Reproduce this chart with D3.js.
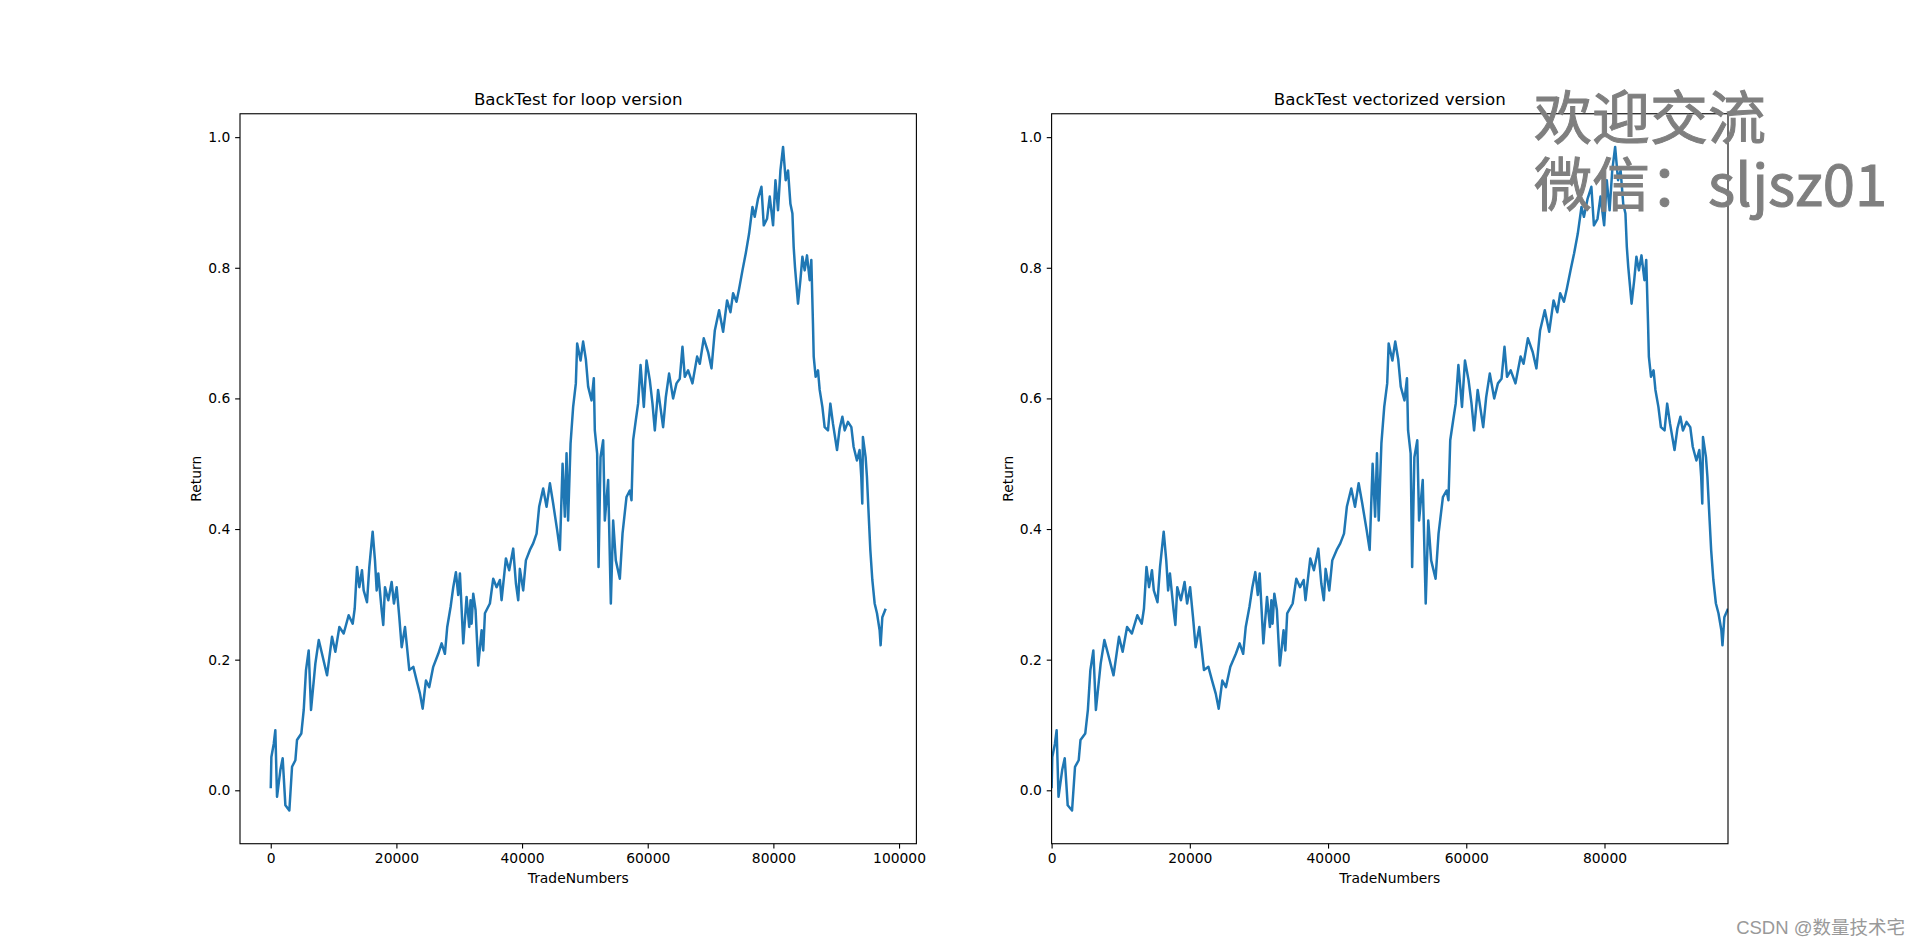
<!DOCTYPE html>
<html>
<head>
<meta charset="utf-8">
<script src="https://cdn.jsdelivr.net/npm/d3@7"></script>
<style>
  body { margin: 0; background: #ffffff; }
  svg { display: block; }
</style>
</head>
<body>
<div id="chart"></div>
<script>
// ---------------- data ----------------
// trade number (x) and cumulative return (y), both panels show the same series
var tradeNumbers = [
  0, 100, 475, 730, 1000, 1530, 1900, 2330, 2960, 3390, 3920, 4180, 4870, 5250, 5610, 6040,
  6410, 7100, 7640, 8160, 8960, 9750, 10280, 10920, 11610, 12400, 13040, 13360, 13730, 14100,
  14520, 14790, 15320, 15690, 16220, 16590, 16860, 17120, 17650, 17910, 18180, 18710, 19240,
  19610, 20040, 20460, 20840, 21370, 21630, 22050, 22690, 23220, 23750, 24180, 24700, 25230,
  25860, 26660, 27200, 27720, 28090, 28630, 29050, 29470, 29840, 30110, 30640, 31170, 31590,
  31800, 31970, 32230, 32600, 33020, 33560, 33820, 34090, 34880, 35410, 35950, 36470, 36740,
  37430, 37950, 38590, 39020, 39390, 39650, 40180, 40610, 41250, 41770, 42310, 42720, 43360,
  43900, 44430, 44950, 45590, 46020, 46450, 46810, 47080, 47330, 47720, 48130, 48560, 48770,
  49310, 49720, 50150, 50520, 51060, 51420, 51580, 51950, 52170, 52490, 52910, 53170, 53700,
  54130, 54500, 54920, 55560, 55990, 56620, 57150, 57420, 57680, 58110, 58470, 58860, 59380,
  59810, 60330, 60760, 61130, 61650, 62450, 62880, 63400, 64040, 64580, 65100, 65530, 65900,
  66430, 67120, 67860, 68290, 68920, 69610, 70150, 70680, 71360, 72000, 72630, 73170, 73590,
  74130, 74550, 75080, 75600, 76130, 76670, 77030, 77560, 78100, 78470, 78990, 79420, 79950,
  80330, 80740, 81120, 81540, 81960, 82330, 82710, 83030, 83230, 83440, 83920, 84300, 84620,
  84980, 85350, 85780, 86040, 86300, 86420, 86730, 87100, 87370, 87800, 88160, 88690, 89070,
  89490, 90130, 90550, 90980, 91350, 91870, 92410, 92770, 93300, 93720, 93990, 94150, 94250,
  94680, 94890, 95210, 95430, 95750, 96120, 96490, 96910, 97070, 97340, 97870
];
var returns = [
  0.003, 0.051, 0.071, 0.092, -0.010, 0.031, 0.049, -0.023, -0.031, 0.036, 0.046, 0.077, 0.087, 0.123, 0.184, 0.214,
  0.123, 0.194, 0.230, 0.209, 0.176, 0.235, 0.212, 0.250, 0.240, 0.268, 0.255, 0.278, 0.342, 0.311,
  0.337, 0.306, 0.288, 0.342, 0.396, 0.352, 0.306, 0.332, 0.276, 0.253, 0.311, 0.291, 0.319,
  0.286, 0.311, 0.265, 0.219, 0.250, 0.225, 0.184, 0.189, 0.168, 0.148, 0.125, 0.168, 0.158,
  0.189, 0.209, 0.225, 0.209, 0.250, 0.281, 0.311, 0.334, 0.299, 0.332, 0.225, 0.296, 0.250,
  0.291, 0.255, 0.301, 0.276, 0.191, 0.245, 0.214, 0.271, 0.286, 0.324, 0.311, 0.322, 0.291,
  0.355, 0.337, 0.370, 0.317, 0.291, 0.339, 0.306, 0.352, 0.368, 0.378, 0.393, 0.434, 0.462,
  0.434, 0.470, 0.439, 0.398, 0.368, 0.500, 0.419, 0.516, 0.413, 0.531, 0.587, 0.623, 0.684,
  0.658, 0.687, 0.660, 0.618, 0.597, 0.631, 0.551, 0.516, 0.342, 0.510, 0.536, 0.413, 0.475,
  0.286, 0.413, 0.352, 0.324, 0.393, 0.449, 0.459, 0.444, 0.536, 0.567, 0.592, 0.651, 0.587,
  0.658, 0.628, 0.592, 0.551, 0.613, 0.556, 0.602, 0.638, 0.600, 0.623, 0.630, 0.679, 0.633,
  0.643, 0.623, 0.664, 0.653, 0.692, 0.671, 0.646, 0.704, 0.735, 0.702, 0.750, 0.732, 0.761,
  0.748, 0.768, 0.796, 0.822, 0.852, 0.893, 0.878, 0.906, 0.924, 0.865, 0.875, 0.909, 0.865,
  0.934, 0.888, 0.949, 0.985, 0.934, 0.949, 0.898, 0.883, 0.832, 0.801, 0.745, 0.781, 0.817,
  0.796, 0.819, 0.781, 0.812, 0.715, 0.664, 0.633, 0.643, 0.613, 0.587, 0.556, 0.551, 0.592,
  0.561, 0.521, 0.554, 0.572, 0.551, 0.564, 0.556, 0.526, 0.505, 0.521, 0.480, 0.439, 0.541,
  0.510, 0.480, 0.413, 0.368, 0.322, 0.286, 0.271, 0.245, 0.222, 0.265, 0.278
];

var titles = ["BackTest for loop version", "BackTest vectorized version"];
var xLabel = "TradeNumbers";
var yLabel = "Return";
var yTicks = [0.0, 0.2, 0.4, 0.6, 0.8, 1.0];
var xTicksLeft = [0, 20000, 40000, 60000, 80000, 100000];
var xTicksRight = [0, 20000, 40000, 60000, 80000];
var watermark = ["欢迎交流", "微信：sljsz01"];
var credit = "CSDN @数量技术宅";

// ---------------- layout (matplotlib default subplot params) ----------------
var svgWidth = 1920;
var svgHeight = 948;
var axTop = 113.76;
var axBottom = 843.72;
var tickLen = 4.86;
var lineColor = "#1f77b4";

var series = tradeNumbers.map(function(t, i) {
  return { x: t, y: returns[i] };
});

var svg = d3.select("#chart")
  .append("svg")
  .attr("width", svgWidth)
  .attr("height", svgHeight);

// y extent with the 5% auto margin matplotlib adds
var yMin = d3.min(returns), yMax = d3.max(returns);
var ySpan = yMax - yMin;
var yScale = d3.scaleLinear()
  .domain([yMin - 0.05 * ySpan, yMax + 0.05 * ySpan])
  .range([axBottom, axTop]);

var xLast = d3.max(tradeNumbers);

var panels = [
  { left: 240, right: 916.4, title: titles[0], ticks: xTicksLeft, domain: [-0.05 * xLast, 1.05 * xLast] },
  { left: 1051.6, right: 1728, title: titles[1], ticks: xTicksRight, domain: [0, xLast] }
];

panels.forEach(function(p, i) {
  var xScale = d3.scaleLinear().domain(p.domain).range([p.left, p.right]);
  var g = svg.append("g").attr("class", "panel" + i);

  // clip the line to the axes box
  g.append("clipPath")
    .attr("id", "clip" + i)
    .append("rect")
    .attr("x", p.left)
    .attr("y", axTop)
    .attr("width", p.right - p.left)
    .attr("height", axBottom - axTop);

  var line = d3.line()
    .x(function(d) { return xScale(d.x); })
    .y(function(d) { return yScale(d.y); });

  g.append("path")
    .datum(series)
    .attr("clip-path", "url(#clip" + i + ")")
    .attr("fill", "none")
    .attr("stroke", lineColor)
    .attr("stroke-width", 2.5)
    .attr("stroke-linejoin", "round")
    .attr("d", line);

  // x axis
  var xAxis = g.append("g")
    .attr("transform", "translate(0," + axBottom + ")")
    .call(d3.axisBottom(xScale).tickValues(p.ticks).tickSize(tickLen).tickPadding(4.86).tickFormat(d3.format("d")));
  // y axis
  var yAxis = g.append("g")
    .attr("transform", "translate(" + p.left + ",0)")
    .call(d3.axisLeft(yScale).tickValues(yTicks).tickSize(tickLen).tickPadding(4.86).tickFormat(d3.format(".1f")));

  [xAxis, yAxis].forEach(function(a) {
    a.select(".domain").remove();
    a.attr("font-family", "DejaVu Sans").attr("font-size", 13.89);
    a.selectAll("line").attr("stroke", "#000").attr("stroke-width", 1.11);
    a.selectAll("text").attr("fill", "#000");
  });

  // axes frame
  g.append("rect")
    .attr("x", p.left)
    .attr("y", axTop)
    .attr("width", p.right - p.left)
    .attr("height", axBottom - axTop)
    .attr("fill", "none")
    .attr("stroke", "#000")
    .attr("stroke-width", 1.11);

  // title and axis labels
  g.append("text")
    .attr("x", (p.left + p.right) / 2)
    .attr("y", 105.4)
    .attr("text-anchor", "middle")
    .attr("font-family", "DejaVu Sans")
    .attr("font-size", 16.67)
    .text(p.title);

  g.append("text")
    .attr("x", (p.left + p.right) / 2)
    .attr("y", 883)
    .attr("text-anchor", "middle")
    .attr("font-family", "DejaVu Sans")
    .attr("font-size", 13.89)
    .text(xLabel);

  g.append("text")
    .attr("transform", "translate(" + (p.left - 39) + "," + ((axTop + axBottom) / 2) + ")rotate(-90)")
    .attr("text-anchor", "middle")
    .attr("font-family", "DejaVu Sans")
    .attr("font-size", 13.89)
    .text(yLabel);
});

// pasted-on watermark, top right (regular face, thin outline for a medium weight)
svg.selectAll("text.wm")
  .data(watermark)
  .enter()
  .append("text")
  .attr("class", "wm")
  .attr("x", 1534)
  .attr("y", function(d, i) { return 139 + i * 67; })
  .attr("font-family", "Noto Sans CJK SC")
  .attr("font-size", 58)
  .attr("fill", "#7f7f7f")
  .attr("stroke", "#7f7f7f")
  .attr("stroke-width", 1)
  .text(function(d) { return d; });

// site credit, bottom right
svg.append("text")
  .attr("x", 1905)
  .attr("y", 934)
  .attr("text-anchor", "end")
  .attr("font-family", "Liberation Sans, Noto Sans CJK SC")
  .attr("font-size", 18.5)
  .attr("fill", "#999999")
  .text(credit);
</script>
</body>
</html>
